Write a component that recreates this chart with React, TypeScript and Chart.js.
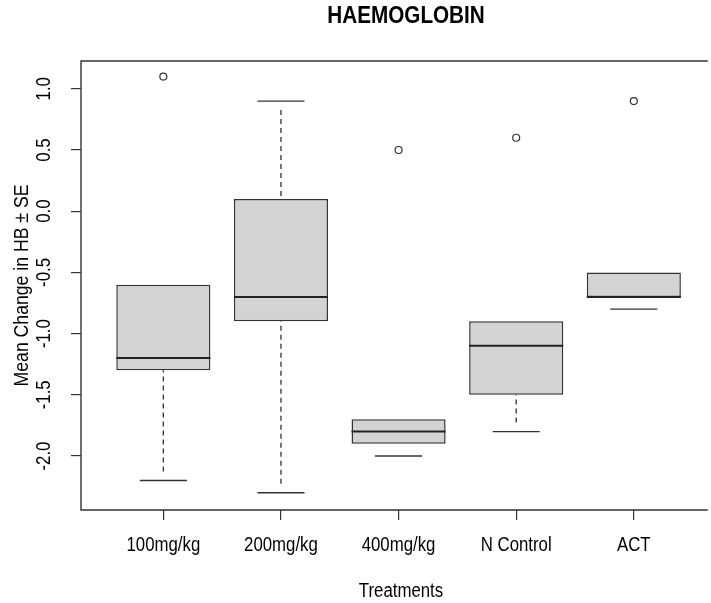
import React, { useEffect, useRef } from "react";
import { Chart, registerables } from "chart.js";

Chart.register(...registerables);

const categories = ["100mg/kg", "200mg/kg", "400mg/kg", "N Control", "ACT"];
const xPositions = [1, 2, 3, 4, 5];
const q1Values = [-1.3, -0.9, -1.9, -1.5, -0.7];
const q3Values = [-0.6, 0.1, -1.7, -0.9, -0.5];
const medianValues = [-1.2, -0.7, -1.8, -1.1, -0.7];
const whiskerLow = [-2.2, -2.3, -2.0, -1.8, -0.8];
const whiskerHigh = [-0.6, 0.9, -1.7, -0.9, -0.5];
const outlierValues = [[1.1], [], [0.5], [0.6], [0.9]];
const yTickValues = [-2, -1.5, -1, -0.5, 0, 0.5, 1];
const yTickLabels = ["-2.0", "-1.5", "-1.0", "-0.5", "0.0", "0.5", "1.0"];

const chartTitle = "HAEMOGLOBIN";
const xTitle = "Treatments";
const yTitle = "Mean Change in HB \u00B1 SE";

const FONT = '"Liberation Sans", Arial, sans-serif';
const LINE = "#333333";
const SQUEEZE = 0.84;

function drawText(
  ctx: CanvasRenderingContext2D,
  text: string,
  x: number,
  y: number,
  rotation: number,
  sx: number
) {
  ctx.save();
  ctx.translate(x, y);
  ctx.rotate(rotation);
  ctx.scale(sx, 1);
  ctx.fillText(text, 0, 0);
  ctx.restore();
}

export default function App() {
  const ref = useRef<HTMLCanvasElement | null>(null);

  useEffect(() => {
    const canvas = ref.current;
    if (!canvas) return;

    const boxPlugin = {
      id: "boxExtras",
      beforeDatasetsDraw(chart: any) {
        const ctx = chart.ctx;
        const xs = chart.scales.x;
        const ys = chart.scales.y;
        ctx.save();
        ctx.strokeStyle = LINE;
        ctx.lineWidth = 1.3;
        xPositions.forEach((xv, i) => {
          const xc = xs.getPixelForValue(xv);
          const half = xs.getPixelForValue(xv + 0.2) - xc;
          const pairs: [number, number][] = [
            [q3Values[i], whiskerHigh[i]],
            [q1Values[i], whiskerLow[i]],
          ];
          pairs.forEach(([edge, end]) => {
            const y0 = ys.getPixelForValue(edge);
            const y1 = ys.getPixelForValue(end);
            const len = Math.abs(y1 - y0);
            if (len < 1) return;
            const dir = y0 > y1 ? 1 : -1;
            if (len > 16) {
              ctx.setLineDash([5, 4]);
              ctx.beginPath();
              ctx.moveTo(xc, y1 + dir * 9);
              ctx.lineTo(xc, y0);
              ctx.stroke();
            }
            ctx.setLineDash([]);
            ctx.beginPath();
            ctx.moveTo(xc - half, y1);
            ctx.lineTo(xc + half, y1);
            ctx.stroke();
          });
        });
        ctx.restore();
      },
      afterDatasetsDraw(chart: any) {
        const ctx = chart.ctx;
        const ys = chart.scales.y;
        const meta = chart.getDatasetMeta(0);
        ctx.save();
        ctx.strokeStyle = "#222222";
        ctx.lineWidth = 2;
        meta.data.forEach((el: any, i: number) => {
          const y = ys.getPixelForValue(medianValues[i]);
          ctx.beginPath();
          ctx.moveTo(el.x - el.width / 2, y);
          ctx.lineTo(el.x + el.width / 2, y);
          ctx.stroke();
        });
        ctx.restore();
      },
      afterDraw(chart: any) {
        const ctx = chart.ctx;
        const area = chart.chartArea;
        const xs = chart.scales.x;
        const ys = chart.scales.y;
        ctx.save();
        // frame
        ctx.strokeStyle = LINE;
        ctx.lineWidth = 1.4;
        ctx.beginPath();
        ctx.moveTo(area.right + 2, area.top);
        ctx.lineTo(area.left, area.top);
        ctx.lineTo(area.left, area.bottom);
        ctx.lineTo(area.right + 2, area.bottom);
        ctx.stroke();

        ctx.fillStyle = "#000";
        ctx.textAlign = "center";
        ctx.textBaseline = "middle";

        // y tick labels (rotated like R)
        ctx.font = `20px ${FONT}`;
        yTickValues.forEach((v, i) => {
          drawText(ctx, yTickLabels[i], area.left - 37, ys.getPixelForValue(v), -Math.PI / 2, SQUEEZE);
        });
        // x tick labels
        xPositions.forEach((v, i) => {
          drawText(ctx, categories[i], xs.getPixelForValue(v), area.bottom + 35, 0, SQUEEZE);
        });
        // axis titles
        ctx.font = `21px ${FONT}`;
        drawText(ctx, yTitle, 22, (area.top + area.bottom) / 2, -Math.PI / 2, SQUEEZE);
        ctx.font = `20px ${FONT}`;
        drawText(ctx, xTitle, 401, 591, 0, SQUEEZE);
        // main title
        ctx.font = `bold 23px ${FONT}`;
        drawText(ctx, chartTitle, 406, 17, 0, 0.9);
        ctx.restore();
      },
    };

    const outlierPoints: { x: number; y: number }[] = [];
    outlierValues.forEach((list, i) => {
      list.forEach((v) => outlierPoints.push({ x: xPositions[i], y: v }));
    });

    const chart = new Chart(canvas, {
      type: "bar",
      data: {
        datasets: [
          {
            type: "bar",
            label: "box",
            data: xPositions.map((x, i) => ({ x, y: [q1Values[i], q3Values[i]] })) as any,
            backgroundColor: "#d3d3d3",
            borderColor: LINE,
            borderWidth: 1.5,
            borderSkipped: false,
            barPercentage: 1,
            categoryPercentage: 0.8,
            order: 2,
          } as any,
          {
            type: "scatter",
            label: "outliers",
            data: outlierPoints,
            pointStyle: "circle",
            pointRadius: 3.5,
            pointBorderWidth: 1.2,
            borderColor: LINE,
            backgroundColor: "rgba(0,0,0,0)",
            order: 1,
          } as any,
        ],
      },
      options: {
        responsive: false,
        animation: false,
        layout: { padding: { top: 61, left: 0, right: 0, bottom: 0 } },
        plugins: {
          legend: { display: false },
          tooltip: { enabled: false },
          title: { display: false },
        },
        scales: {
          x: {
            type: "linear",
            min: 0.3,
            max: 5.612,
            offset: false,
            afterBuildTicks: (s: any) => {
              s.ticks = xPositions.map((v) => ({ value: v }));
            },
            afterFit: (s: any) => {
              s.height = 93;
            },
            grid: {
              drawOnChartArea: false,
              drawTicks: true,
              tickLength: 10,
              color: LINE,
              lineWidth: 1.2,
              offset: false,
            },
            border: { display: false },
            ticks: { display: false },
          },
          y: {
            type: "linear",
            min: -2.441,
            max: 1.227,
            afterBuildTicks: (s: any) => {
              s.ticks = yTickValues.map((v) => ({ value: v }));
            },
            afterFit: (s: any) => {
              s.width = 81;
            },
            grid: {
              drawOnChartArea: false,
              drawTicks: true,
              tickLength: 10,
              color: LINE,
              lineWidth: 1.2,
            },
            border: { display: false },
            ticks: { display: false },
          },
        },
      } as any,
      plugins: [boxPlugin],
    });

    return () => {
      chart.destroy();
    };
  }, []);

  return (
    <div style={{ position: "absolute", left: 0, top: 0, width: 711, height: 603, background: "#fff" }}>
      <canvas ref={ref} width={711} height={603} style={{ display: "block" }} />
    </div>
  );
}
